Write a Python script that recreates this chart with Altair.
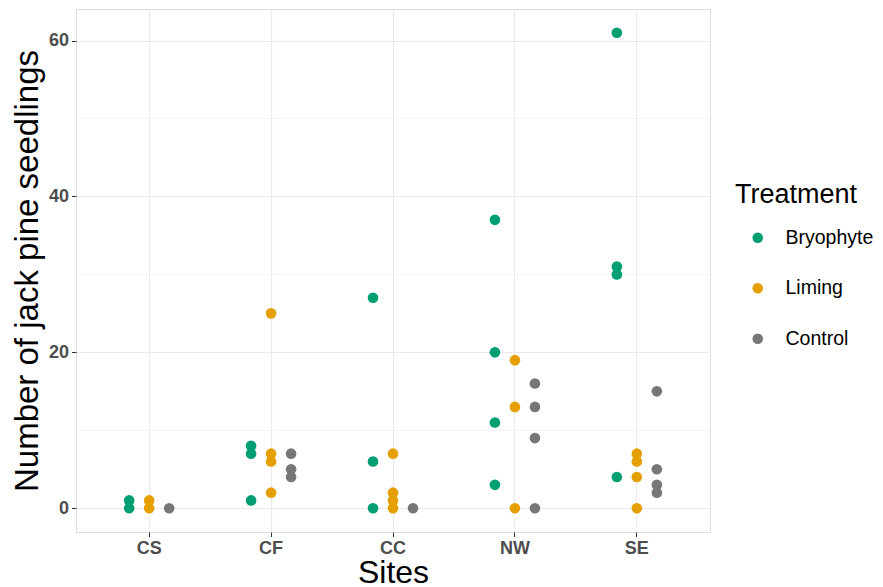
import altair as alt
import pandas as pd

sites = ["CS", "CF", "CC", "NW", "SE"]
treatments = ["Bryophyte", "Liming", "Control"]
colors = ["#009E73", "#E69F00", "#777777"]

site = (["CS"] * 5 + ["CF"] * 10 + ["CC"] * 8 + ["NW"] * 11 + ["SE"] * 12)
treatment = (
    ["Bryophyte"] * 2 + ["Liming"] * 2 + ["Control"] * 1
    + ["Bryophyte"] * 3 + ["Liming"] * 4 + ["Control"] * 3
    + ["Bryophyte"] * 3 + ["Liming"] * 4 + ["Control"] * 1
    + ["Bryophyte"] * 4 + ["Liming"] * 3 + ["Control"] * 4
    + ["Bryophyte"] * 4 + ["Liming"] * 4 + ["Control"] * 4
)
seedlings = (
    [1, 0] + [1, 0] + [0]
    + [8, 7, 1] + [25, 7, 6, 2] + [7, 5, 4]
    + [27, 6, 0] + [7, 2, 1, 0] + [0]
    + [37, 20, 11, 3] + [19, 13, 0] + [16, 13, 9, 0]
    + [61, 31, 30, 4] + [7, 6, 4, 0] + [15, 5, 3, 2]
)
major_breaks = [0, 20, 40, 60]
minor_breaks = [10, 30, 50]

df = pd.DataFrame({"Sites": site, "Treatment": treatment, "Seedlings": seedlings})
minor_df = pd.DataFrame({"y": minor_breaks})

FONT = "Liberation Sans"
W, H = 634, 523
STEP = W / 5.2

y_scale = alt.Scale(domain=[-3.05, 64.05], nice=False, zero=False)

minor = alt.Chart(minor_df).mark_rule(color="#EBEBEB", strokeWidth=0.55).encode(
    y=alt.Y("y:Q", scale=y_scale)
)

points = alt.Chart(df).mark_point(filled=True, size=113, opacity=1, strokeWidth=0).encode(
    x=alt.X(
        "Sites:N",
        sort=sites,
        scale=alt.Scale(type="band", paddingInner=0, paddingOuter=0.1),
        axis=alt.Axis(
            title="Sites",
            titleFontSize=32,
            titleFont=FONT,
            titleFontWeight="normal",
            titleColor="#000000",
            titleX=W / 2,
            titleY=50,
            titleBaseline="alphabetic",
            labelFont=FONT,
            labelFontSize=18,
            labelFontWeight="bold",
            labelColor="#4D4D4D",
            labelAngle=0,
            labelPadding=3,
            tickColor="#333333",
            tickSize=4.5,
            tickWidth=1,
            domain=False,
            grid=True,
            gridColor="#EBEBEB",
            gridWidth=1.1,
            bandPosition=0.5,
        ),
    ),
    xOffset=alt.XOffset(
        "Treatment:N",
        sort=treatments,
        scale=alt.Scale(type="point", padding=0, range=[STEP / 2 - 20, STEP / 2 + 20]),
    ),
    y=alt.Y(
        "Seedlings:Q",
        scale=y_scale,
        axis=alt.Axis(
            title="Number of jack pine seedlings",
            titleFontSize=33,
            titleFont=FONT,
            titleFontWeight="normal",
            titleColor="#000000",
            titleAngle=-90,
            titleX=-39,
            titleY=H / 2,
            titleBaseline="alphabetic",
            values=major_breaks,
            labelFont=FONT,
            labelFontSize=18,
            labelFontWeight="bold",
            labelColor="#4D4D4D",
            labelPadding=3,
            tickColor="#333333",
            tickSize=4.5,
            tickWidth=1,
            domain=False,
            grid=True,
            gridColor="#EBEBEB",
            gridWidth=1.1,
        ),
    ),
    color=alt.Color(
        "Treatment:N",
        sort=treatments,
        scale=alt.Scale(domain=treatments, range=colors),
        legend=alt.Legend(
            title="Treatment",
            orient="none",
            legendX=659,
            legendY=173,
            titleFont=FONT,
            titleFontSize=27,
            titleFontWeight="normal",
            titleColor="#000000",
            titlePadding=19,
            labelFont=FONT,
            labelFontSize=19.5,
            labelColor="#000000",
            labelOffset=18,
            symbolOffset=13,
            symbolType="circle",
            symbolSize=113,
            symbolStrokeWidth=0,
            rowPadding=29.5,
        ),
    ),
)

chart = (
    alt.layer(minor, points)
    .properties(
        width=W,
        height=H,
        autosize=alt.AutoSizeParams(type="none"),
        padding={"left": 68, "top": 1, "right": 165, "bottom": 55},
    )
    .configure_view(stroke="#333333", strokeWidth=1.1)
    .configure(background="white")
)

chart.save("out.html", embed_options={"renderer": "svg", "actions": False})
